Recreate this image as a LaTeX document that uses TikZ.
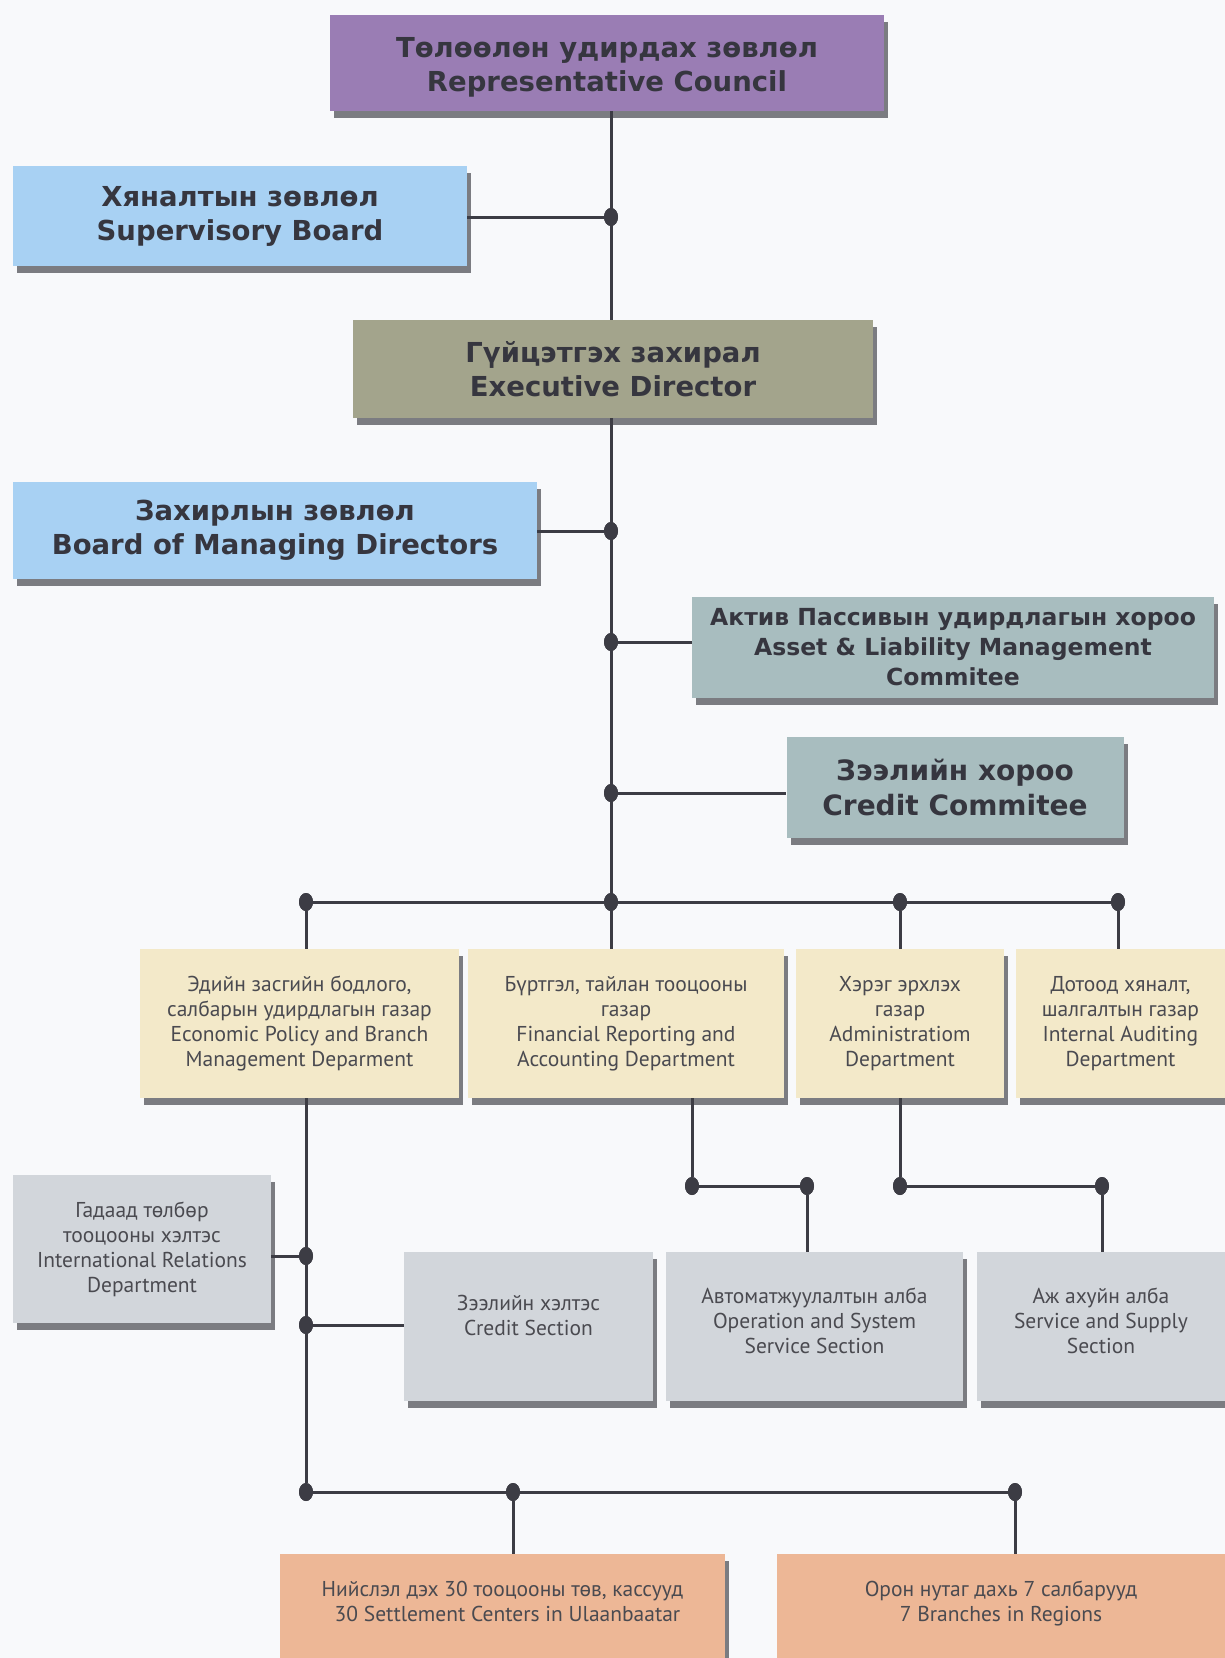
\documentclass[tikz,border=0pt]{standalone}
\usepackage{fontspec}
\setmainfont{Open Sans}
\newfontfamily\headfont{DejaVu Sans}
\newfontfamily\deptfont{PT Sans}
\usetikzlibrary{shadows,shapes.geometric}
\definecolor{bgc}{HTML}{F8F9FB}
\definecolor{linec}{HTML}{3C3C44}
\definecolor{txtc}{HTML}{36363F}
\definecolor{depttxt}{HTML}{4A4A50}
\definecolor{purplec}{HTML}{9A7DB4}
\definecolor{bluec}{HTML}{A8D1F3}
\definecolor{olivec}{HTML}{A3A48C}
\definecolor{tealc}{HTML}{A8BDBF}
\definecolor{creamc}{HTML}{F3E9C9}
\definecolor{greyc}{HTML}{D2D6DB}
\definecolor{salmonc}{HTML}{EDB796}
\definecolor{shadc}{HTML}{6E6F74}
\tikzset{
 box/.style={rectangle, inner sep=0pt, align=center, text=txtc,
   drop shadow={shadow xshift=4pt, shadow yshift=-7pt, fill=shadc, opacity=0.9}},
 head/.style={box, font=\headfont\bfseries\fontsize{27.5}{34}\selectfont},
 dept/.style={box, font=\deptfont\fontsize{21.5}{25}\selectfont, text=depttxt},
 dot/.style={ellipse, fill=linec, inner sep=0pt, minimum width=14pt, minimum height=18pt},
 conn/.style={draw=linec, line width=3pt},
}
\begin{document}
\begin{tikzpicture}[x=1pt,y=-1pt]
\useasboundingbox (0,0) rectangle (1225,1658);
\fill[bgc] (0,0) rectangle (1225,1658);
% top level boxes
\node[head, fill=purplec, minimum width=554pt, minimum height=96pt] (rc) at (607,63) {\rule{0pt}{29pt}Төлөөлөн удирдах зөвлөл\\Representative Council};
\node[head, fill=bluec, minimum width=454pt, minimum height=100pt] (sb) at (240,216) {Хяналтын зөвлөл\\Supervisory Board};
\node[head, fill=olivec, minimum width=520pt, minimum height=98pt] (ed) at (613,369) {Гүйцэтгэх захирал\\Executive Director};
\node[head, fill=bluec, minimum width=524pt, minimum height=97pt] (bmd) at (275,530) {Захирлын зөвлөл\\Board of Managing Directors};
\node[box, fill=tealc, font=\headfont\bfseries\fontsize{23.5}{30}\selectfont, minimum width=522pt, minimum height=101pt] (alco) at (953,647) {Актив Пассивын удирдлагын хороо\\Asset \& Liability Management\\Commitee};
\node[box, fill=tealc, font=\headfont\bfseries\fontsize{28}{35}\selectfont, minimum width=337pt, minimum height=101pt] (cc) at (955,787) {Зээлийн хороо\\Credit Commitee};
% departments
\node[dept, fill=creamc, minimum width=319pt, minimum height=149pt] (econ) at (299.5,1023.5) {Эдийн засгийн бодлого,\\салбарын удирдлагын газар\\Economic Policy and Branch\\Management Deparment};
\node[dept, fill=creamc, minimum width=316pt, minimum height=149pt] (fin) at (626,1023.5) {Бүртгэл, тайлан тооцооны\\газар\\Financial Reporting and\\Accounting Department};
\node[dept, fill=creamc, minimum width=208pt, minimum height=149pt] (adm) at (900,1023.5) {Хэрэг эрхлэх\\газар\\Administratiom\\Department};
\node[dept, fill=creamc, minimum width=209pt, minimum height=149pt] (aud) at (1120.5,1023.5) {Дотоод хяналт,\\шалгалтын газар\\Internal Auditing\\Department};
% sections
\node[dept, fill=greyc, minimum width=258pt, minimum height=148pt] (ir) at (142,1249) {Гадаад төлбөр\\тооцооны хэлтэс\\International Relations\\Department};
\node[dept, fill=greyc, minimum width=249pt, minimum height=149pt] (cs) at (528.5,1326.5) {Зээлийн хэлтэс\\Credit Section\\[-3pt]};
\node[dept, fill=greyc, minimum width=297pt, minimum height=149pt] (ops) at (814.5,1326.5) {Автоматжуулалтын алба\\Operation and System\\Service Section\\[-14pt]};
\node[dept, fill=greyc, minimum width=248pt, minimum height=149pt] (svc) at (1101,1326.5) {Аж ахуйн алба\\Service and Supply\\Section\\[-14pt]};
% bottom
\node[dept, fill=salmonc, minimum width=445pt, minimum height=112pt] (set) at (502.5,1610) {Нийслэл дэх 30 тооцооны төв, кассууд\\\hspace*{10pt}30 Settlement Centers in Ulaanbaatar\\[-7pt]};
\node[dept, fill=salmonc, minimum width=448pt, minimum height=112pt] (br) at (1001,1610) {Орон нутаг дахь 7 салбарууд\\7 Branches in Regions\\[-7pt]};
% dots
\node[dot] (d1) at (611,217) {};
\node[dot] (d2) at (611,531) {};
\node[dot] (d3) at (611,642) {};
\node[dot] (d4) at (611,793) {};
\node[dot] (b1) at (306,902) {};
\node[dot] (b2) at (611,902) {};
\node[dot] (b3) at (900,902) {};
\node[dot] (b4) at (1118,902) {};
\node[dot] (f1) at (692,1186) {};
\node[dot] (f2) at (807,1186) {};
\node[dot] (a1) at (900,1186) {};
\node[dot] (a2) at (1102,1186) {};
\node[dot] (e1) at (306,1256) {};
\node[dot] (e2) at (306,1325) {};
\node[dot] (e3) at (306,1492) {};
\node[dot] (e4) at (513,1492) {};
\node[dot] (e5) at (1015,1492) {};
% connectors
\draw[conn] (rc.south -| d1) -- (ed.north -| d1);
\draw[conn] (sb.east |- d1) -- (d1);
\draw[conn] (ed.south -| d1) -- (fin.north -| d1);
\draw[conn] (bmd.east |- d2) -- (d2);
\draw[conn] (d3) -- (alco.west |- d3);
\draw[conn] (d4) -- (cc.west |- d4);
\draw[conn] (b1) -- (b4);
\draw[conn] (b1) -- (econ.north -| b1);
\draw[conn] (b3) -- (adm.north -| b3);
\draw[conn] (b4) -- (aud.north -| b4);
\draw[conn] (econ.south -| b1) -- (e3);
\draw[conn] (ir.east |- e1) -- (e1);
\draw[conn] (e2) -- (cs.west |- e2);
\draw[conn] (e3) -- (e5);
\draw[conn] (e4) -- (set.north -| e4);
\draw[conn] (e5) -- (br.north -| e5);
\draw[conn] (fin.south -| f1) -- (f1) -- (f2) -- (ops.north -| f2);
\draw[conn] (adm.south -| a1) -- (a1) -- (a2) -- (svc.north -| a2);
% redraw dots on top
\foreach \n in {d1,d2,d3,d4,b1,b2,b3,b4,f1,f2,a1,a2,e1,e2,e3,e4,e5}
  \fill[linec] (\n.center) ellipse (7pt and 9pt);
\end{tikzpicture}
\end{document}
